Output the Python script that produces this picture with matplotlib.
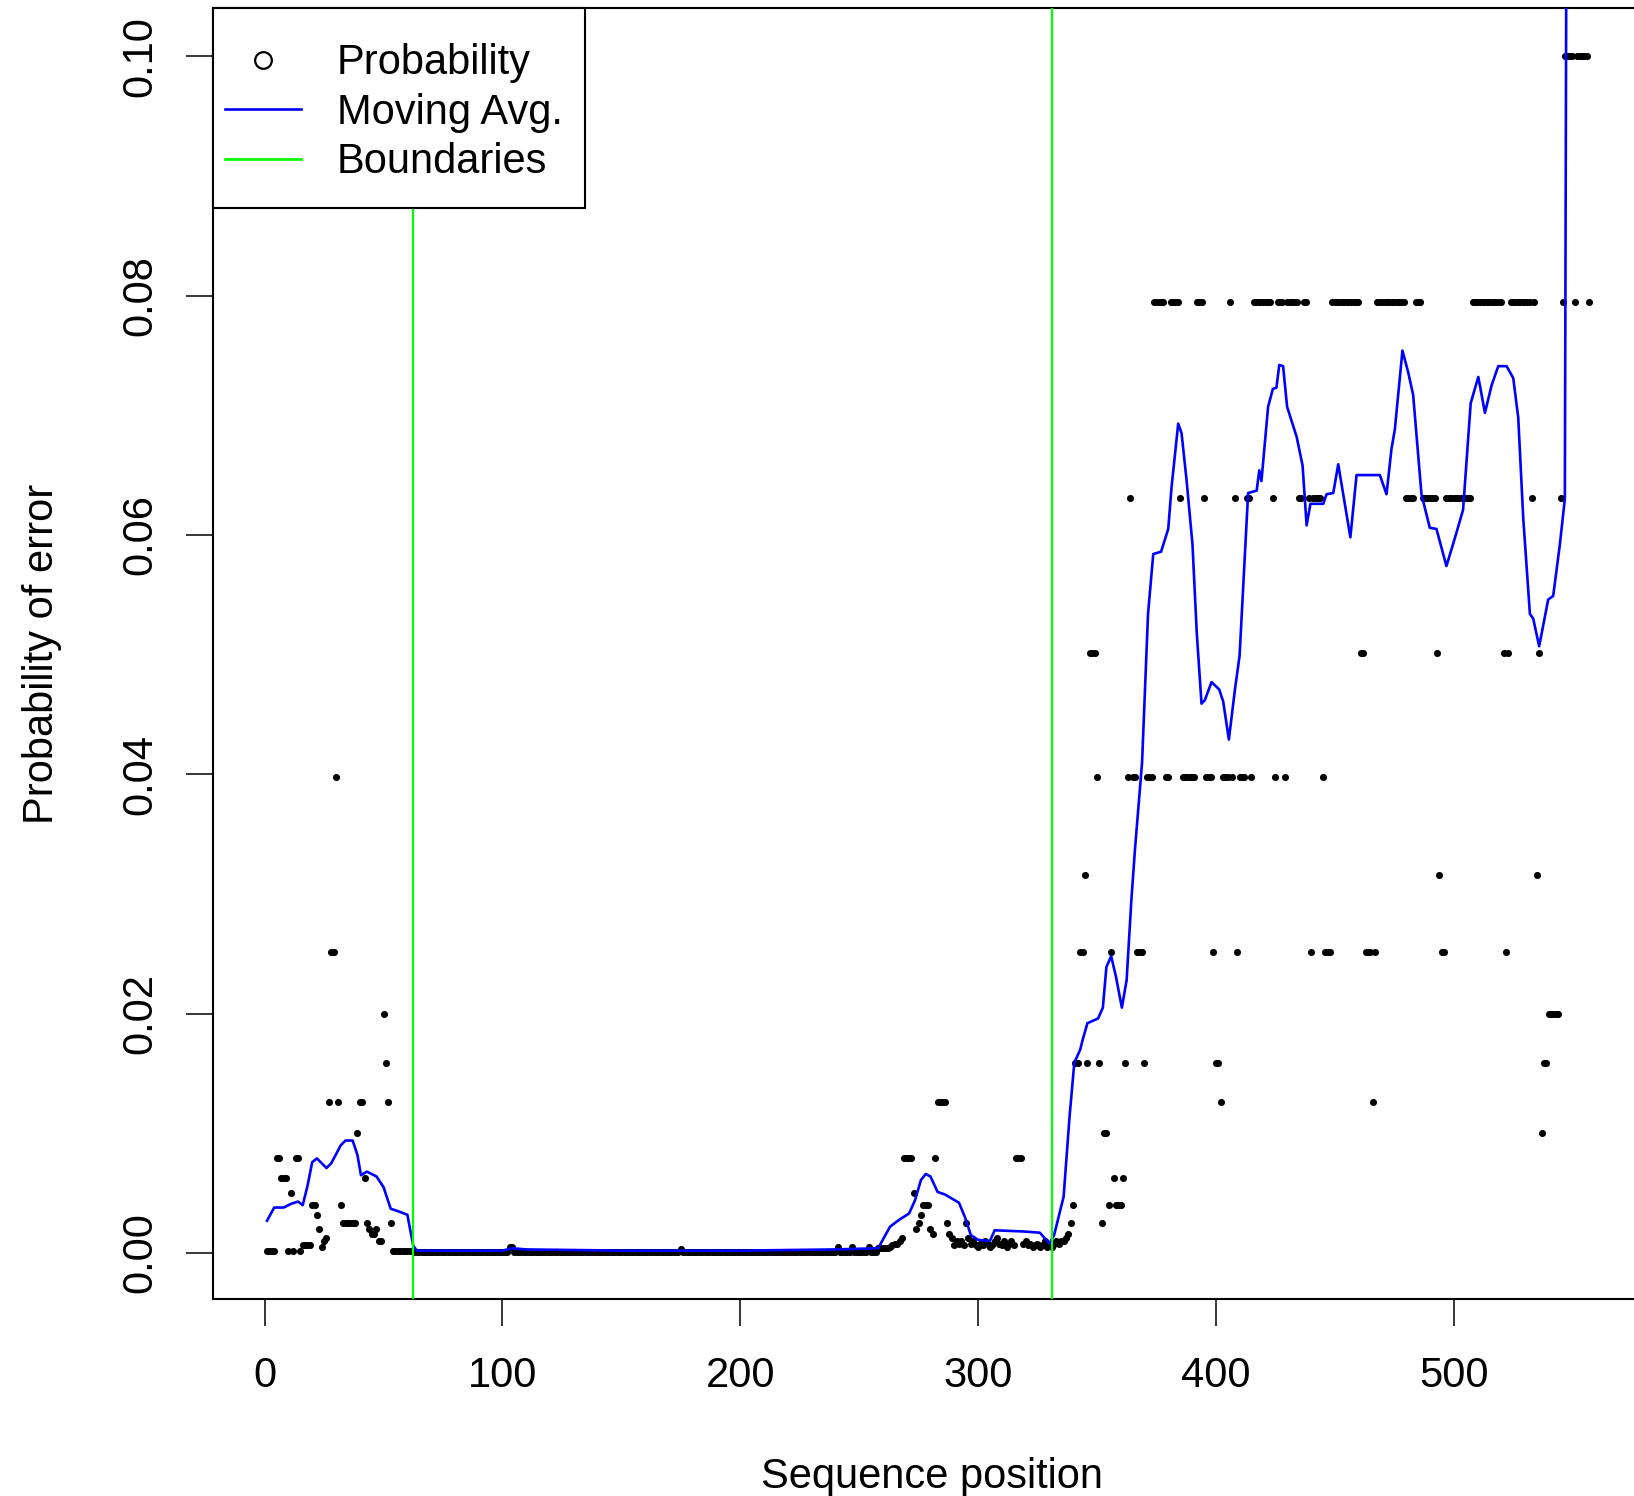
import matplotlib
matplotlib.use("Agg")
import matplotlib.pyplot as plt
from matplotlib.lines import Line2D
from matplotlib.patches import Rectangle
import numpy as np

plt.rcParams["font.family"] = ["Liberation Sans", "DejaVu Sans"]
plt.rcParams["font.size"] = 30

# ── Data ────────────────────────────────────────────────────
# Phred quality per sequence position (1..557); error prob = 10^(-Q/10)
QUAL = [
    37, 37, 37, 37, 21, 21, 22, 22, 22, 37,   # 1
    23, 37, 21, 21, 37, 32, 32, 32, 32, 24,   # 11
    24, 25, 27, 33, 30, 29, 19, 16, 16, 14,   # 21
    19, 24, 26, 26, 26, 26, 26, 26, 20, 19,   # 31
    19, 22, 26, 27, 28, 28, 27, 30, 30, 17,   # 41
    18, 19, 26, 38, 38, 38, 38, 38, 38, 38,   # 51
    38, 38, 40, 40, 40, 40, 40, 40, 40, 40,   # 61
    40, 40, 40, 40, 40, 40, 40, 40, 40, 40,   # 71
    40, 40, 40, 40, 40, 40, 40, 40, 40, 40,   # 81
    40, 40, 40, 40, 40, 40, 40, 40, 40, 40,   # 91
    40, 40, 33, 33, 40, 40, 40, 40, 40, 40,   # 101
    40, 40, 40, 40, 40, 40, 40, 40, 40, 40,   # 111
    40, 40, 40, 40, 40, 40, 40, 40, 40, 40,   # 121
    40, 40, 40, 40, 40, 40, 40, 40, 40, 40,   # 131
    40, 40, 40, 40, 40, 40, 40, 40, 40, 40,   # 141
    40, 40, 40, 40, 40, 40, 40, 40, 40, 40,   # 151
    40, 40, 40, 40, 40, 40, 40, 40, 40, 40,   # 161
    40, 40, 40, 40, 35, 40, 40, 40, 40, 40,   # 171
    40, 40, 40, 40, 40, 40, 40, 40, 40, 40,   # 181
    40, 40, 40, 40, 40, 40, 40, 40, 40, 40,   # 191
    40, 40, 40, 40, 40, 40, 40, 40, 40, 40,   # 201
    40, 40, 40, 40, 40, 40, 40, 40, 40, 40,   # 211
    40, 40, 40, 40, 40, 40, 40, 40, 40, 40,   # 221
    40, 40, 40, 40, 40, 40, 40, 40, 40, 40,   # 231
    33, 40, 40, 40, 40, 40, 33, 40, 40, 40,   # 241
    40, 40, 40, 33, 40, 40, 40, 34, 34, 34,   # 251
    34, 34, 33, 32, 31, 31, 30, 29, 21, 21,   # 261
    21, 21, 23, 27, 26, 25, 24, 24, 24, 27,   # 271
    28, 21, 19, 19, 19, 19, 26, 28, 29, 32,   # 281
    30, 31, 30, 32, 26, 29, 31, 30, 32, 33,   # 291
    31, 32, 30, 31, 33, 32, 30, 29, 31, 32,   # 301
    30, 33, 31, 30, 32, 21, 21, 21, 31, 30,   # 311
    32, 31, 33, 32, 31, 33, 32, 30, 33, 32,   # 321
    33, 31, 30, 31, 30, 30, 29, 28, 26, 24,   # 331
    18, 18, 16, 16, 15, 18, 13, 13, 13, 14,   # 341
    18, 26, 20, 20, 24, 16, 22, 24, 24, 24,   # 351
    22, 18, 14, 12, 14, 14, 16, 16, 16, 18,   # 361
    14, 14, 14, 11, 11, 11, 11, 11, 14, 14,   # 371
    11, 11, 11, 11, 12, 14, 14, 14, 14, 14,   # 381
    14, 11, 11, 11, 12, 14, 14, 14, 16, 18,   # 391
    18, 19, 14, 14, 14, 11, 14, 12, 16, 14,   # 401
    14, 14, 12, 12, 14, 11, 11, 11, 11, 11,   # 411
    11, 11, 11, 12, 14, 11, 11, 11, 14, 11,   # 421
    11, 11, 11, 11, 12, 12, 11, 11, 12, 16,   # 431
    12, 12, 12, 12, 14, 16, 16, 16, 11, 11,   # 441
    11, 11, 11, 11, 11, 11, 11, 11, 11, 11,   # 451
    13, 13, 16, 16, 16, 19, 16, 11, 11, 11,   # 461
    11, 11, 11, 11, 11, 11, 11, 11, 11, 12,   # 471
    12, 12, 12, 11, 11, 11, 12, 12, 12, 12,   # 481
    12, 12, 13, 15, 16, 16, 12, 12, 12, 12,   # 491
    12, 12, 12, 12, 12, 12, 12, 11, 11, 11,   # 501
    11, 11, 11, 11, 11, 11, 11, 11, 11, 11,   # 511
    13, 16, 13, 11, 11, 11, 11, 11, 11, 11,   # 521
    11, 11, 12, 11, 15, 13, 20, 18, 18, 17,   # 531
    17, 17, 17, 17, 12, 11, 10, 10, 10, 10,   # 541
    11, 10, 10, 10, 10, 10, 11,               # 551
]

# moving average curve, vertices
MA_POS = [1, 4, 8, 11, 14, 16, 18, 20, 22, 26, 28, 32, 34, 37, 39, 40.5, 43,
          47, 50, 53, 56, 60, 62.5, 64, 100, 104, 110, 150, 200, 240, 258,
          263, 267, 271, 273.5, 276, 278, 280, 283, 286, 292, 294.5, 297, 300,
          305, 307, 319, 326, 330, 332, 336, 338.5, 340.5, 343, 344, 346,
          350.5, 352.5, 354, 356, 358, 360.5, 362.5, 364.5, 366, 369, 371.5,
          373.7, 377, 380, 381.4, 384.2, 385.6, 387.7, 390.2, 392, 394, 395.4,
          398.2, 401.4, 403.1, 405.5, 408, 410, 413.6, 417.2, 418.3, 419.2,
          422, 424, 425.5, 426.7, 428.3, 430, 434, 436.5, 438.2, 439.8, 445.2,
          446.6, 449.4, 451.5, 454, 456.6, 459.2, 469, 471.8, 473.9, 475.3,
          478.5, 480.9, 483, 486.5, 490, 492.8, 497, 500.5, 504, 507.2, 510.4,
          513.2, 516, 518.8, 522.3, 525.1, 527.2, 529.3, 532.1, 533.5, 536,
          539.8, 541.9, 544.7, 546.8, 548]
MA_VAL = [0.0027, 0.0038, 0.0038, 0.0041, 0.0043, 0.0040, 0.0056, 0.0076,
          0.0079, 0.0071, 0.0075, 0.0090, 0.0094, 0.0094, 0.0082, 0.0065,
          0.0068, 0.0064, 0.0055, 0.0037, 0.0035, 0.0032, 0.0006, 0.0002,
          0.0002, 0.0004, 0.0003, 0.0002, 0.0002, 0.0003, 0.0004, 0.0022,
          0.0028, 0.0033, 0.0044, 0.0061, 0.0066, 0.0064, 0.0051, 0.0049,
          0.0042, 0.0030, 0.0015, 0.0011, 0.0010, 0.0019, 0.0018, 0.0017,
          0.0008, 0.0015, 0.0047, 0.0114, 0.0159, 0.0170, 0.0178, 0.0192,
          0.0196, 0.0205, 0.0239, 0.0248, 0.0231, 0.0205, 0.0228, 0.0295,
          0.0337, 0.0410, 0.0534, 0.0584, 0.0586, 0.0605, 0.0640, 0.0693,
          0.0685, 0.0646, 0.0592, 0.0518, 0.0459, 0.0462, 0.0477, 0.0471,
          0.0461, 0.0429, 0.0470, 0.0499, 0.0635, 0.0637, 0.0654, 0.0645,
          0.0707, 0.0722, 0.0723, 0.0742, 0.0741, 0.0707, 0.0682, 0.0658,
          0.0608, 0.0626, 0.0626, 0.0634, 0.0635, 0.0659, 0.0629, 0.0598,
          0.0650, 0.0650, 0.0634, 0.0672, 0.0688, 0.0754, 0.0736, 0.0717,
          0.0634, 0.0606, 0.0605, 0.0574, 0.0597, 0.0621, 0.0710, 0.0732,
          0.0702, 0.0725, 0.0741, 0.0741, 0.0731, 0.0698, 0.0614, 0.0534,
          0.0530, 0.0507, 0.0546, 0.0549, 0.0592, 0.0630, 0.1500]

BOUNDARIES = [62.5, 331]

X_TICKS = [0, 100, 200, 300, 400, 500]
Y_TICKS = [0.00, 0.02, 0.04, 0.06, 0.08, 0.10]
Y_TICK_LABELS = ["0.00", "0.02", "0.04", "0.06", "0.08", "0.10"]

# ── Plot ────────────────────────────────────────────────────
W, H = 1634, 1496
fig = plt.figure(figsize=(W / 100, H / 100), dpi=100)
# axes frame in pixels: left 212.6, top 8.3, bottom 1298.5; right edge 1651 (just past the image)
ax = fig.add_axes([212.6 / W, 1 - 1298.5 / H, (1651.4 - 212.6) / W, (1298.5 - 8.3) / H])

pos = np.arange(1, len(QUAL) + 1)
prob = 10.0 ** (-np.array(QUAL) / 10.0)

ax.plot(pos, prob, "o", color="black", ms=5.1, mew=0, zorder=2)
ax.plot(MA_POS, MA_VAL, color="#0000FF", lw=1.9, zorder=3)
for b in BOUNDARIES:
    ax.axvline(b, color="#00FF00", lw=1.6, zorder=4)

ax.set_xlim(-21.9, 583.2)
ax.set_ylim(-0.0038, 0.1040)
ax.set_xticks(X_TICKS)
ax.set_yticks(Y_TICKS)
ax.set_yticklabels(Y_TICK_LABELS, rotation=90, va="center")
ax.tick_params(direction="out", length=19.5, width=1.1, labelsize=30)
ax.tick_params(axis="x", pad=22)
ax.tick_params(axis="y", pad=18)
for s in ax.spines.values():
    s.set_linewidth(1.5)

ax.set_xlabel("Sequence position", fontsize=30, labelpad=44)
ax.set_ylabel("Probability of error", fontsize=30, labelpad=42)

# legend: R-style box, roomy top/bottom, tight left
handles = [
    Line2D([], [], ls="none", marker="o", mfc="none", mec="black", ms=12, mew=1.6),
    Line2D([], [], color="#0000FF", lw=1.9),
    Line2D([], [], color="#00FF00", lw=1.9),
]
top_pad, bot_pad = 23, 14  # extra vertical room inside the box, pixels
leg = ax.legend(handles, ["Probability", "Moving Avg.", "Boundaries"],
                loc="upper left", bbox_to_anchor=(0, 1 - top_pad / ax.bbox.height),
                borderaxespad=0, frameon=False, fontsize=30,
                handlelength=1.83, handletextpad=0.86, borderpad=0.29,
                labelspacing=0.225)
leg.set_zorder(10)
fig.canvas.draw()
bb = leg.get_window_extent().transformed(ax.transAxes.inverted())
dy_top = top_pad / ax.bbox.height
dy_bot = bot_pad / ax.bbox.height
dx = 10 / ax.bbox.width
ax.add_patch(Rectangle((bb.x0, bb.y0 - dy_bot), bb.width + dx,
                       bb.height + dy_top + dy_bot,
                       transform=ax.transAxes, fc="white", ec="black",
                       lw=1.5, zorder=9, clip_on=False))

fig.savefig("out.png", dpi=100)
